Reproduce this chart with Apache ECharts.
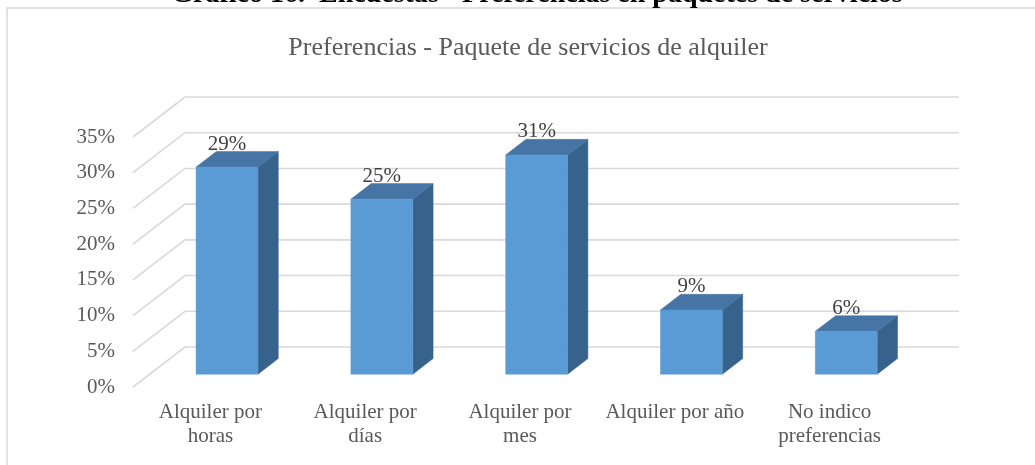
<!DOCTYPE html>
<html>
<head>
<meta charset="utf-8">
<script src="https://cdn.jsdelivr.net/npm/echarts@6/dist/echarts.min.js"></script>
<style>
html,body{margin:0;padding:0;background:#fff;}
#chart{width:1035px;height:465px;}
</style>
</head>
<body>
<div id="chart"></div>
<script>
const heading = 'Gráfico 16.  Encuestas - Preferencias en paquetes de servicios';
const chartTitle = 'Preferencias - Paquete de servicios de alquiler';
const categories = ['Alquiler por\nhoras', 'Alquiler por\ndías', 'Alquiler por\nmes', 'Alquiler por año', 'No indico\npreferencias'];
const values = [29, 24.5, 30.7, 9, 6];
const yTicks = [0, 5, 10, 15, 20, 25, 30, 35];

const FONT = '"Liberation Serif", "Times New Roman", serif';
const DX = 52, DY = -40;       // depth offset of the back wall
const F0 = 0.32, F1 = 0.71;    // bar depth range (fraction of floor depth)

const chart = echarts.init(document.getElementById('chart'), null, {renderer: 'canvas'});

function gridItem(params, api) {
  const cs = params.coordSys;
  const p = api.coord([0, api.value(1)]);
  const x0 = cs.x, xr = cs.x + cs.width, y = p[1];
  return {
    type: 'polyline',
    shape: {points: [[x0, y], [x0 + DX, y + DY], [xr + DX, y + DY]]},
    style: {stroke: '#D9D9D9', lineWidth: 1.6, fill: null}
  };
}

function barItem(params, api) {
  const i = api.value(0), v = api.value(1);
  const base = api.coord([i, 0]);
  const top = api.coord([i, v]);
  const band = api.size([1, 0])[0];
  const w = band * 0.4;
  const cx = base[0] + DX * F0;
  const x1 = cx - w / 2, x2 = cx + w / 2;
  const yb = base[1] + DY * F0, yt = top[1] + DY * F0;
  const ddx = DX * (F1 - F0), ddy = DY * (F1 - F0);
  return {
    type: 'group',
    children: [
      {type: 'polygon', shape: {points: [[x2, yt], [x2 + ddx, yt + ddy], [x2 + ddx, yb + ddy], [x2, yb]]},
       style: {fill: '#37628C', stroke: '#37628C', lineWidth: 0.5}},
      {type: 'polygon', shape: {points: [[x1, yt], [x2, yt], [x2 + ddx, yt + ddy], [x1 + ddx, yt + ddy]]},
       style: {fill: '#4675A5', stroke: '#4675A5', lineWidth: 0.5}},
      {type: 'rect', shape: {x: x1, y: yt, width: w, height: yb - yt},
       style: {fill: '#5B9BD5', stroke: '#5B9BD5', lineWidth: 0.5}},
      {type: 'text', x: cx, y: yt - 23,
       style: {text: Math.round(v) + '%', font: '21px ' + FONT, fill: '#404040',
               align: 'center', verticalAlign: 'middle', textAlign: 'center', textVerticalAlign: 'middle'}}
    ]
  };
}

chart.setOption({
  animation: false,
  backgroundColor: '#ffffff',
  title: {
    text: chartTitle,
    left: 523, top: 30, textAlign: 'center',
    textStyle: {fontFamily: FONT, fontSize: 26, fontWeight: 'normal', color: '#595959'}
  },
  graphic: [
    {type: 'rect', z: -1, shape: {x: 7, y: 8, width: 1100, height: 600},
     style: {fill: null, stroke: '#D9D9D9', lineWidth: 1.5}},
    {type: 'text', x: 537, y: -5,
     style: {text: heading, font: 'bold 28px ' + FONT, fill: '#000',
             align: 'center', verticalAlign: 'middle', textAlign: 'center', textVerticalAlign: 'middle'}}
  ],
  grid: {left: 133, right: 128, top: 137, bottom: 78, containLabel: false},
  xAxis: {
    type: 'category', data: categories, boundaryGap: true,
    axisLine: {show: false}, axisTick: {show: false}, splitLine: {show: false},
    axisLabel: {margin: 13, fontFamily: FONT, fontSize: 21, lineHeight: 24, color: '#595959', interval: 0}
  },
  yAxis: {
    type: 'value', min: 0, max: 35, interval: 5,
    axisLine: {show: false}, axisTick: {show: false}, splitLine: {show: false},
    axisLabel: {margin: 18, fontFamily: FONT, fontSize: 21, color: '#595959', formatter: '{value}%'}
  },
  series: [
    {type: 'custom', z: 1, renderItem: gridItem, data: yTicks.map(t => [0, t]), silent: true},
    {type: 'custom', z: 2, renderItem: barItem, data: values.map((v, i) => [i, v])}
  ]
});
</script>
</body>
</html>
